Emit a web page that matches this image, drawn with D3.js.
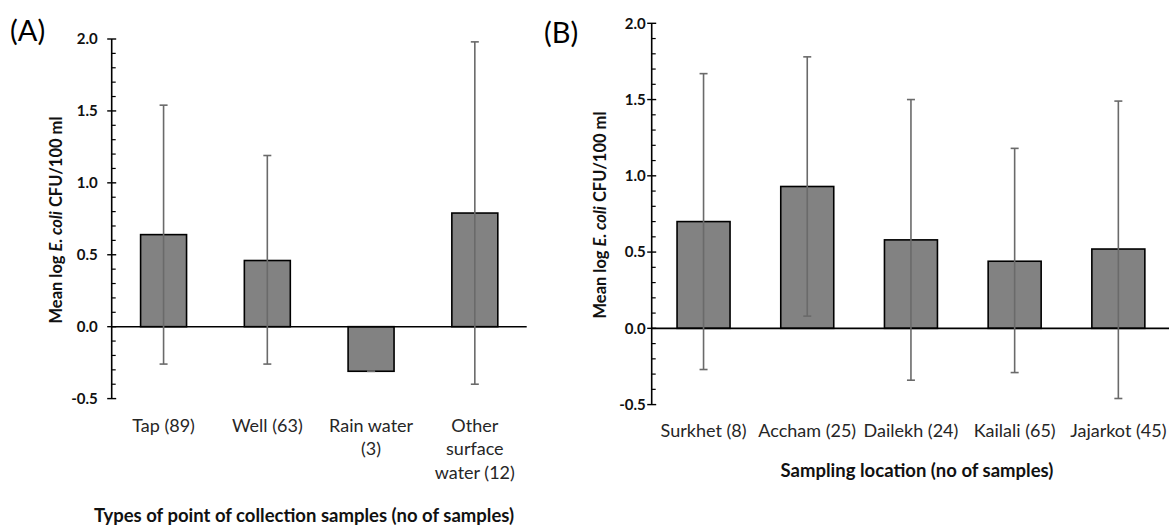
<!DOCTYPE html>
<html>
<head>
<meta charset="utf-8">
<script src="https://cdn.jsdelivr.net/npm/d3@7"></script>
<style>
  html, body { margin: 0; padding: 0; background: #fff; }
  svg { display: block; font-family: Lato, "Open Sans", sans-serif; }
</style>
</head>
<body>
<div id="chart"></div>
<script>
// Panel A: type of collection point
const labelsA = [["Tap (89)"], ["Well (63)"], ["Rain water", "(3)"], ["Other", "surface", "water (12)"]];
const meanA = [0.64, 0.46, -0.31, 0.79];
const upperA = [1.54, 1.19, -0.31, 1.98];
const lowerA = [-0.26, -0.26, -0.31, -0.40];

// Panel B: sampling location
const labelsB = [["Surkhet (8)"], ["Accham (25)"], ["Dailekh (24)"], ["Kailali (65)"], ["Jajarkot (45)"]];
const meanB = [0.70, 0.93, 0.58, 0.44, 0.52];
const upperB = [1.67, 1.78, 1.50, 1.18, 1.49];
const lowerB = [-0.27, 0.08, -0.34, -0.29, -0.46];

const majorTicks = [-0.5, 0.0, 0.5, 1.0, 1.5, 2.0];
const yDomain = [-0.5, 2.0];

const W = 1169, H = 528;

const svg = d3.select("#chart")
    .append("svg")
    .attr("width", W)
    .attr("height", H);

function drawPanel(p) {
    const g = svg.append("g");
    const data = p.labels.map((l, i) => ({
        key: l.join(" "), lines: l, mean: p.mean[i], hi: p.upper[i], lo: p.lower[i]
    }));

    const x = d3.scaleBand()
        .domain(data.map(d => d.key))
        .range(p.xRange)
        .paddingInner(p.pad)
        .paddingOuter(p.pad / 2);
    const y = d3.scaleLinear().domain(yDomain).range(p.yRange);

    // bars
    g.selectAll("rect.bar")
        .data(data)
        .join("rect")
        .attr("class", "bar")
        .attr("x", d => x(d.key))
        .attr("width", x.bandwidth())
        .attr("y", d => y(Math.max(0, d.mean)))
        .attr("height", d => Math.abs(y(d.mean) - y(0)))
        .attr("fill", "#828282")
        .attr("stroke", "#000")
        .attr("stroke-width", 1.6);

    // y axis: major ticks cross, minor ticks inside
    const minor = d3.range(-5, 21).map(v => v / 10).filter(v => !majorTicks.some(m => Math.abs(m - v) < 1e-9));
    const ax = g.append("g").attr("transform", `translate(${p.xRange[0]},0)`);
    ax.append("line")
        .attr("y1", y(yDomain[0])).attr("y2", y(yDomain[1]))
        .attr("stroke", "#000").attr("stroke-width", 1.6);
    ax.selectAll("line.major")
        .data(majorTicks)
        .join("line")
        .attr("class", "major")
        .attr("x1", -4.5).attr("x2", 4.5)
        .attr("y1", d => y(d)).attr("y2", d => y(d))
        .attr("stroke", "#000").attr("stroke-width", 1.4);
    ax.selectAll("line.minor")
        .data(minor)
        .join("line")
        .attr("class", "minor")
        .attr("x1", 0).attr("x2", 4)
        .attr("y1", d => y(d)).attr("y2", d => y(d))
        .attr("stroke", "#000").attr("stroke-width", 1.2);
    ax.selectAll("text.tick")
        .data(majorTicks)
        .join("text")
        .attr("class", "tick")
        .attr("x", -p.tickGap)
        .attr("y", d => y(d))
        .attr("dy", "0.36em")
        .attr("text-anchor", "end")
        .attr("font-size", 15)
        .attr("font-weight", "bold")
        .attr("fill", "#111")
        .text(d => d.toFixed(1));

    // category axis at zero
    g.append("line")
        .attr("x1", p.xRange[0]).attr("x2", p.xRange[1])
        .attr("y1", y(0)).attr("y2", y(0))
        .attr("stroke", "#000").attr("stroke-width", 1.6);

    // error bars
    const eb = g.selectAll("g.err")
        .data(data)
        .join("g")
        .attr("class", "err")
        .attr("transform", d => `translate(${x(d.key) + x.bandwidth() / 2},0)`)
        .attr("stroke", "#6a6a6a")
        .attr("stroke-width", 1.6);
    eb.append("line").attr("y1", d => y(d.lo)).attr("y2", d => y(d.hi));
    eb.append("line").attr("x1", -4).attr("x2", 4).attr("y1", d => y(d.hi)).attr("y2", d => y(d.hi));
    eb.append("line").attr("x1", -4).attr("x2", 4).attr("y1", d => y(d.lo)).attr("y2", d => y(d.lo));

    // category labels
    g.selectAll("text.cat")
        .data(data)
        .join("text")
        .attr("class", "cat")
        .attr("text-anchor", "middle")
        .attr("font-size", 18)
        .attr("fill", "#262626")
        .attr("transform", d => `translate(${x(d.key) + x.bandwidth() / 2},${p.catY})`)
        .selectAll("tspan")
        .data(d => d.lines)
        .join("tspan")
        .attr("x", 0)
        .attr("y", (d, i) => i * 23.5)
        .attr("dy", "0.35em")
        .text(d => d);

    // y axis title
    const yt = g.append("text")
        .attr("transform", `translate(${p.yTitle[0]},${p.yTitle[1]}) rotate(-90)`)
        .attr("text-anchor", "middle")
        .attr("dy", "0.35em")
        .attr("font-size", 16.5)
        .attr("font-weight", "bold")
        .attr("fill", "#111");
    yt.append("tspan").text("Mean log ");
    yt.append("tspan").attr("font-style", "italic").text("E. coli");
    yt.append("tspan").text(" CFU/100 ml");

    // x axis title
    g.append("text")
        .attr("x", p.xTitle[0]).attr("y", p.xTitle[1])
        .attr("dy", "0.35em")
        .attr("text-anchor", "middle")
        .attr("font-size", 18.5)
        .attr("font-weight", "bold")
        .attr("fill", "#111")
        .text(p.xTitleText);

    // panel letter
    g.append("text")
        .attr("x", p.letterPos[0]).attr("y", p.letterPos[1])
        .attr("dy", "0.35em")
        .attr("font-size", 29)
        .attr("fill", "#000")
        .text(p.letter);
}

drawPanel({
    labels: labelsA, mean: meanA, upper: upperA, lower: lowerA,
    xRange: [111.7, 526.7], yRange: [398.6, 39], pad: 0.557, tickGap: 14,
    catY: 425.6, yTitle: [56, 220], xTitle: [304, 516],
    xTitleText: "Types of point of collection samples (no of samples)",
    letter: "(A)", letterPos: [10, 31]
});

drawPanel({
    labels: labelsB, mean: meanB, upper: upperB, lower: lowerB,
    xRange: [651.7, 1170.2], yRange: [404.6, 23.3], pad: 0.489, tickGap: 6,
    catY: 431, yTitle: [600, 215], xTitle: [917, 470.5],
    xTitleText: "Sampling location (no of samples)",
    letter: "(B)", letterPos: [544, 33]
});
</script>
</body>
</html>
